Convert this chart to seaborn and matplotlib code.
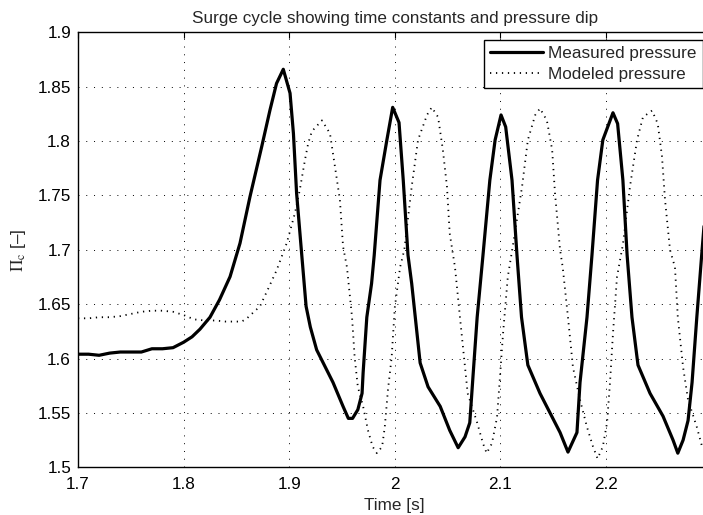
import matplotlib
matplotlib.use("Agg")
import matplotlib.pyplot as plt
import seaborn as sns
import pandas as pd

# ---- data ----
meas_t = [1.700, 1.710, 1.720, 1.730, 1.740, 1.750, 1.760, 1.770, 1.780, 1.790,
          1.800, 1.808, 1.8155, 1.825, 1.834, 1.844, 1.8534, 1.8629, 1.874, 1.8818,
          1.888, 1.8944, 1.9008, 1.904, 1.907, 1.912, 1.916, 1.920, 1.926, 1.9415,
          1.951, 1.956, 1.960, 1.965, 1.969, 1.970, 1.9735, 1.978, 1.9805, 1.986,
          1.9925, 1.998, 2.004, 2.008, 2.0125, 2.016, 2.024, 2.0315, 2.043, 2.052,
          2.060, 2.0665, 2.071, 2.074, 2.078, 2.0835, 2.090, 2.095, 2.1006, 2.105,
          2.111, 2.1157, 2.120, 2.126, 2.1375, 2.147, 2.1565, 2.164, 2.1725, 2.1754,
          2.182, 2.1867, 2.192, 2.197, 2.2066, 2.211, 2.216, 2.220, 2.2246, 2.2303,
          2.2417, 2.254, 2.2635, 2.268, 2.273, 2.2777, 2.2815, 2.286, 2.291, 2.296]
meas_p = [1.604, 1.604, 1.603, 1.605, 1.606, 1.606, 1.606, 1.609, 1.609, 1.610,
          1.615, 1.620, 1.627, 1.638, 1.654, 1.6753, 1.706, 1.749, 1.795, 1.8285,
          1.853, 1.866, 1.844, 1.807, 1.752, 1.694, 1.648, 1.629, 1.608, 1.578,
          1.556, 1.545, 1.545, 1.553, 1.568, 1.587, 1.638, 1.669, 1.695, 1.764,
          1.801, 1.831, 1.817, 1.764, 1.695, 1.669, 1.596, 1.574, 1.556, 1.534,
          1.518, 1.528, 1.541, 1.583, 1.638, 1.695, 1.764, 1.801, 1.824, 1.813,
          1.764, 1.695, 1.638, 1.594, 1.568, 1.550, 1.532, 1.514, 1.532, 1.578,
          1.638, 1.695, 1.764, 1.801, 1.826, 1.816, 1.764, 1.695, 1.638, 1.594,
          1.568, 1.547, 1.525, 1.513, 1.525, 1.543, 1.578, 1.638, 1.700, 1.760]

mod_t = [1.700, 1.710, 1.720, 1.730, 1.740, 1.750, 1.760, 1.770, 1.780, 1.790,
         1.800, 1.810, 1.820, 1.830, 1.840, 1.850, 1.855, 1.860, 1.8723, 1.880,
         1.888, 1.8976, 1.9055, 1.910, 1.915, 1.918, 1.9215, 1.931, 1.9386, 1.9434,
         1.948, 1.951, 1.9547, 1.9595, 1.962, 1.965, 1.970, 1.9746, 1.979, 1.983,
         1.988, 1.9905, 1.9935, 1.997, 2.000, 2.005, 2.009, 2.016, 2.022, 2.0305,
         2.035, 2.041, 2.0455, 2.0494, 2.052, 2.057, 2.0617, 2.0665, 2.069, 2.078,
         2.0835, 2.087, 2.092, 2.0968, 2.0996, 2.1025, 2.107, 2.112, 2.1205, 2.126,
         2.133, 2.1375, 2.144, 2.149, 2.1517, 2.1565, 2.159, 2.164, 2.1687, 2.1754,
         2.182, 2.1877, 2.192, 2.197, 2.201, 2.2038, 2.2066, 2.2104, 2.216, 2.2227,
         2.2294, 2.235, 2.2436, 2.249, 2.253, 2.2559, 2.2606, 2.2653, 2.268, 2.273,
         2.2777, 2.286, 2.291, 2.297]
mod_p = [1.637, 1.637, 1.638, 1.638, 1.639, 1.641, 1.643, 1.644, 1.644, 1.643,
         1.640, 1.636, 1.635, 1.635, 1.634, 1.634, 1.634, 1.637, 1.648, 1.664,
         1.681, 1.706, 1.734, 1.755, 1.783, 1.798, 1.809, 1.819, 1.807, 1.776,
         1.746, 1.703, 1.684, 1.638, 1.601, 1.574, 1.556, 1.534, 1.519, 1.513,
         1.519, 1.537, 1.571, 1.601, 1.647, 1.684, 1.700, 1.758, 1.801, 1.824,
         1.831, 1.822, 1.792, 1.758, 1.715, 1.684, 1.638, 1.592, 1.568, 1.541,
         1.522, 1.513, 1.522, 1.546, 1.583, 1.623, 1.675, 1.705, 1.758, 1.801,
         1.824, 1.830, 1.819, 1.792, 1.752, 1.700, 1.684, 1.638, 1.592, 1.562,
         1.537, 1.519, 1.508, 1.519, 1.541, 1.578, 1.623, 1.675, 1.705, 1.758,
         1.801, 1.822, 1.828, 1.816, 1.786, 1.746, 1.700, 1.684, 1.638, 1.592,
         1.562, 1.537, 1.519, 1.510]

x_ticks = [1.7, 1.8, 1.9, 2.0, 2.1, 2.2]
x_tick_labels = ["1.7", "1.8", "1.9", "2", "2.1", "2.2"]
y_ticks = [1.5, 1.55, 1.6, 1.65, 1.7, 1.75, 1.8, 1.85, 1.9]
y_tick_labels = ["1.5", "1.55", "1.6", "1.65", "1.7", "1.75", "1.8", "1.85", "1.9"]
labels = ["Measured pressure", "Modeled pressure"]

sns.set_style("white")
plt.rcParams["font.family"] = ["Liberation Sans", "DejaVu Sans"]
plt.rcParams["mathtext.fontset"] = "stix"
FS = 12.3

fig = plt.figure(figsize=(7.03, 5.15), dpi=100)
W, H = 703, 515
x0, x1 = 78, 711.6
y0, y1 = 32.3, 467.3
ax = fig.add_axes([x0 / W, 1 - y1 / H, (x1 - x0) / W, (y1 - y0) / H])

df_m = pd.DataFrame({"t": meas_t, "p": meas_p})
df_o = pd.DataFrame({"t": mod_t, "p": mod_p})
sns.lineplot(data=df_m, x="t", y="p", ax=ax, color="black", lw=2.3,
             sort=False, estimator=None, label=labels[0])
sns.lineplot(data=df_o, x="t", y="p", ax=ax, color="black", lw=1.3,
             linestyle=(0, (0.7, 2.6)), sort=False, estimator=None, label=labels[1])

ax.set_xlim(1.7, 2.3)
ax.set_ylim(1.5, 1.9)
ax.set_xticks(x_ticks)
ax.set_xticklabels(x_tick_labels)
ax.set_yticks(y_ticks)
ax.set_yticklabels(y_tick_labels)
ax.tick_params(direction="in", length=4, width=0.8, labelsize=FS, colors="black",
               top=True, right=True, pad=5)
ax.tick_params(axis="x", pad=7)
for s in ax.spines.values():
    s.set_visible(True)
    s.set_color("black")
    s.set_linewidth(1.0)
ax.grid(True, color="black", linestyle=(0, (1, 7)), linewidth=0.7)

ax.set_xlabel("Time [s]", fontsize=FS, labelpad=4)
ax.set_ylabel(r"$\Pi_{\mathrm{c}}$ [–]", fontsize=FS, labelpad=7)
ax.set_title("Surge cycle showing time constants and pressure dip", fontsize=FS, pad=7)

leg = ax.legend(loc="upper left", bbox_to_anchor=(0.6408, 0.982), fontsize=FS,
                frameon=True, fancybox=False, framealpha=1, edgecolor="black",
                handlelength=3.1, handletextpad=0.3, labelspacing=0.35,
                borderpad=0.35, borderaxespad=0)
leg.get_frame().set_linewidth(1.0)

fig.savefig("out.png", dpi=100)
